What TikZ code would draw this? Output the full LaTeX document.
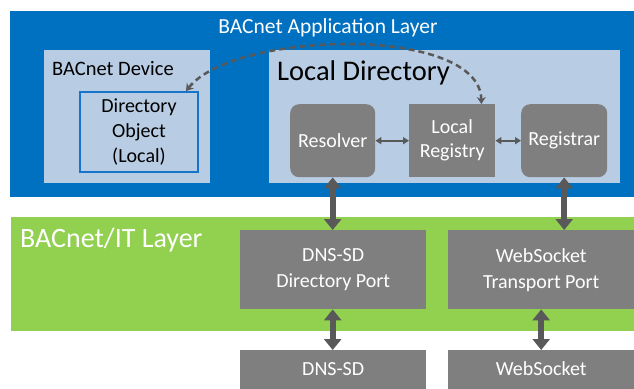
\documentclass[tikz,border=0pt]{standalone}
\usepackage{fontspec}
\setmainfont{Carlito}
\usetikzlibrary{arrows.meta,calc}
\definecolor{appblue}{HTML}{0070C0}
\definecolor{lightblue}{HTML}{B8CCE4}
\definecolor{boxgray}{HTML}{7F7F7F}
\definecolor{arrgray}{HTML}{595959}
\definecolor{itgreen}{HTML}{92D050}
\definecolor{objblue}{HTML}{1874C8}
\tikzset{
  x=1pt,y=-1pt,
  region/.style={draw=none,inner sep=0pt,anchor=north west},
  graybox/.style={region,fill=boxgray},
  roundbox/.style={graybox,rounded corners=9pt},
  wtext/.style={text=white,align=center,inner sep=0pt,font=\fontsize{20}{25}\selectfont},
  thickarrow/.style={arrgray,line width=6pt,{Triangle[width=17pt,length=11pt]}-{Triangle[width=17pt,length=11pt]}},
  smallarrow/.style={arrgray,line width=2pt,{Triangle[width=7pt,length=6pt]}-{Triangle[width=7pt,length=6pt]}},
}
\begin{document}
\begin{tikzpicture}
\useasboundingbox (0,0) rectangle (634,388);
% application layer
\node[region,fill=appblue,minimum width=624pt,minimum height=186pt] (app) at (10,11) {};
\node[text=white,inner sep=0pt,font=\fontsize{21.5}{23}\selectfont,anchor=center] (apptitle) at (328,28) {BACnet Application Layer};
% BACnet device
\node[region,fill=lightblue,minimum width=166pt,minimum height=133pt] (dev) at (44,50) {};
\node[anchor=west,inner sep=0pt,font=\fontsize{20.5}{22}\selectfont] (devtitle) at (52,69) {BACnet Device};
\node[region,fill=lightblue,draw=objblue,line width=2pt,minimum width=118pt,minimum height=80pt] (dirobj) at (79,91) {};
\node[align=center,inner sep=0pt,font=\fontsize{20}{25}\selectfont,anchor=center] (dirobjtext) at (dirobj.center) {Directory\\Object\\(Local)};
% local directory
\node[region,fill=lightblue,minimum width=351pt,minimum height=133pt] (ld) at (269,50) {};
\node[anchor=west,inner sep=0pt,font=\fontsize{28.5}{30}\selectfont] (ldtitle) at (277,73) {Local Directory};
\node[roundbox,minimum width=85pt,minimum height=73pt] (res) at (290,104) {};
\node[wtext] (restext) at (res.center) {Resolver};
\node[graybox,minimum width=86pt,minimum height=73pt] (lreg) at (409,104) {};
\node[wtext,font=\fontsize{20}{24}\selectfont] (lregtext) at (lreg.center) {Local\\Registry};
\node[roundbox,minimum width=86pt,minimum height=73pt] (regr) at (521,104) {};
\node[wtext] (regrtext) at (regr.center) {Registrar};
\draw[smallarrow] (res.east) -- (lreg.west);
\draw[smallarrow] (lreg.east) -- (regr.west);
\draw[arrgray,line width=2.5pt,dash pattern=on 6pt off 4pt,{Stealth[width=9pt,length=7pt]}-{Stealth[width=9pt,length=7pt]}]
  ($(dirobj.north east)+(-13,0)$) .. controls (235,30) and (480,25) .. ($(lreg.north east)+(-14,0)$);
% IT layer
\node[region,fill=itgreen,minimum width=623pt,minimum height=114pt] (it) at (11,217) {};
\node[anchor=west,inner sep=0pt,text=white,font=\fontsize{28}{30}\selectfont] (ittitle) at (20,240) {BACnet/IT Layer};
\node[graybox,minimum width=186pt,minimum height=79pt] (dnsport) at (240,230) {};
\node[wtext,font=\fontsize{20}{26}\selectfont] (dnsporttext) at (dnsport.center) {DNS-SD\\Directory Port};
\node[graybox,minimum width=186pt,minimum height=79pt] (wsport) at (448,230) {};
\node[wtext,font=\fontsize{20}{26}\selectfont] (wsporttext) at (wsport.center) {WebSocket\\Transport Port};
% bottom boxes
\node[graybox,minimum width=186pt,minimum height=40pt] (dns) at (240,350) {};
\node[wtext] (dnstext) at ($(dns.north)+(0,19)$) {DNS-SD};
\node[graybox,minimum width=186pt,minimum height=40pt] (ws) at (448,350) {};
\node[wtext] (wstext) at ($(ws.north)+(0,19)$) {WebSocket};
% thick arrows
\draw[thickarrow] (res.south) -- (res.south |- dnsport.north);
\draw[thickarrow] (regr.south) -- (regr.south |- wsport.north);
\draw[thickarrow] (dnsport.south -| res.south) -- (dns.north -| res.south);
\draw[thickarrow] (wsport.south) -- (ws.north);
\end{tikzpicture}
\end{document}
